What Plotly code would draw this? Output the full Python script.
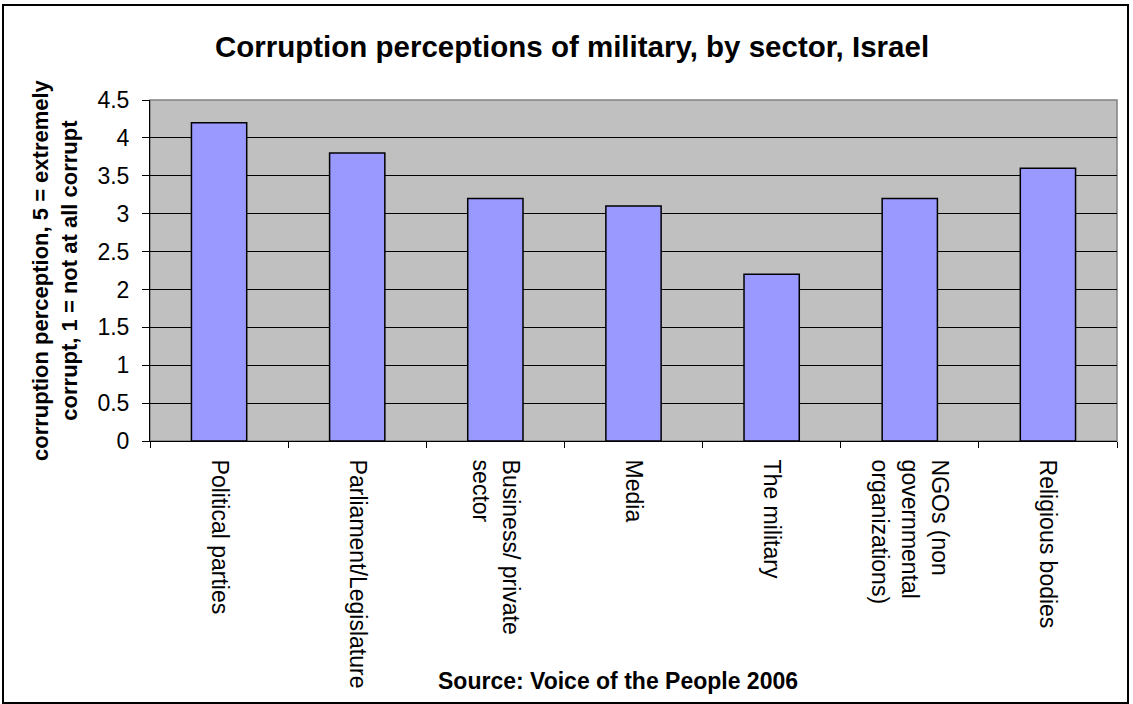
import plotly.graph_objects as go

categories = [
    "Political parties",
    "Parliament/Legislature",
    "Business/ private<br>sector",
    "Media",
    "The military",
    "NGOs (non<br>governmental<br>organizations)",
    "Religious bodies",
]
values = [4.2, 3.8, 3.2, 3.1, 2.2, 3.2, 3.6]
y_ticks = [0, 0.5, 1, 1.5, 2, 2.5, 3, 3.5, 4, 4.5]
y_tick_labels = ["0", "0.5", "1", "1.5", "2", "2.5", "3", "3.5", "4", "4.5"]

W, H = 1133, 704
L, R, T, B = 150, 16, 100, 263
pw = W - L - R
ph = H - T - B

def px_x(p):
    return (p - L) / pw

def px_y(p):
    return (H - B - p) / ph

FONT = "Liberation Sans, Arial, sans-serif"

fig = go.Figure()
fig.add_trace(go.Bar(
    x=categories,
    y=values,
    marker=dict(color="#9999FF", line=dict(color="black", width=1.5)),
    width=0.4,
    hoverinfo="skip",
))

fig.update_layout(
    width=W, height=H,
    margin=dict(l=L, r=R, t=T, b=B),
    paper_bgcolor="white",
    plot_bgcolor="#C0C0C0",
    showlegend=False,
    font=dict(family=FONT, size=23, color="black"),
    title=dict(
        text="<b>Corruption perceptions of military, by sector, Israel</b>",
        x=572 / W, xanchor="center",
        y=1 - 47 / H, yanchor="middle", yref="container",
        font=dict(family=FONT, size=29.5, color="black"),
    ),
    xaxis=dict(
        type="category",
        tickangle=90,
        ticks="outside", ticklen=6, tickcolor="black",
        tickson="boundaries",
        ticklabelstandoff=13,
        showline=True, linecolor="black", linewidth=1,
        showgrid=False,
        tickfont=dict(family=FONT, size=23, color="black"),
    ),
    yaxis=dict(
        range=[0, 4.5],
        tickvals=y_ticks, ticktext=y_tick_labels,
        ticks="outside", ticklen=7, tickcolor="black",
        ticklabelstandoff=8,
        showline=True, linecolor="black", linewidth=1,
        showgrid=True, gridcolor="black", gridwidth=1,
        zeroline=False,
        tickfont=dict(family=FONT, size=23, color="black"),
    ),
    shapes=[
        dict(type="rect", xref="paper", yref="paper", x0=0, x1=1, y0=0, y1=1,
             line=dict(color="#808080", width=1.5), layer="below"),
        dict(type="rect", xref="paper", yref="paper",
             x0=px_x(3), x1=px_x(1128), y0=px_y(703), y1=px_y(5),
             line=dict(color="black", width=2)),
    ],
    annotations=[
        dict(text="<b>corruption perception, 5 = extremely<br>corrupt, 1 = not at all corrupt</b>",
             xref="paper", yref="paper", x=px_x(55), y=px_y(270),
             xanchor="center", yanchor="middle", textangle=-90, showarrow=False,
             font=dict(family=FONT, size=22, color="black")),
        dict(text="<b>Source: Voice of the People 2006</b>",
             xref="paper", yref="paper", x=px_x(618), y=px_y(681),
             xanchor="center", yanchor="middle", showarrow=False,
             font=dict(family=FONT, size=23, color="black")),
    ],
)

fig.write_html("out.html", config={"displayModeBar": False},
               post_script="document.body.style.margin='0';")
